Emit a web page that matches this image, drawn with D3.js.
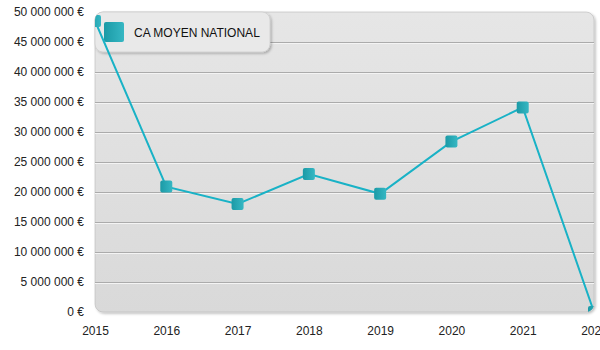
<!DOCTYPE html>
<html>
<head>
<meta charset="utf-8">
<script src="https://cdn.jsdelivr.net/npm/d3@7"></script>
<style>
  html, body { margin: 0; padding: 0; background: #ffffff; }
  svg { display: block; font-family: "Liberation Sans", Arial, sans-serif; }
</style>
</head>
<body>
<svg id="chart" width="600" height="350"></svg>
<script>
// Average national turnover per year
const years = [2015, 2016, 2017, 2018, 2019, 2020, 2021, 2022];
const caMoyen = [48500000, 20900000, 18000000, 23000000, 19700000, 28400000, 34100000, 0];
const yTicks = [0, 5000000, 10000000, 15000000, 20000000, 25000000, 30000000, 35000000, 40000000, 45000000, 50000000];
const seriesName = "CA MOYEN NATIONAL";

const svg = d3.select("#chart");
const plot = { left: 95, right: 594, top: 12, bottom: 312 };

const x = d3.scaleLinear().domain([2015, 2022]).range([plot.left, plot.right]);
const y = d3.scaleLinear().domain([0, 50000000]).range([plot.bottom, plot.top]);

const fmt = v => d3.format(",")(v).replace(/,/g, " ") + " €";

const defs = svg.append("defs");

const bg = defs.append("linearGradient").attr("id", "bgGrad")
  .attr("x1", 0).attr("y1", 0).attr("x2", 0).attr("y2", 1);
bg.append("stop").attr("offset", "0%").attr("stop-color", "#e6e6e6");
bg.append("stop").attr("offset", "100%").attr("stop-color", "#d9d9d9");

const mk = defs.append("linearGradient").attr("id", "markGrad")
  .attr("x1", 0).attr("y1", 0).attr("x2", 1).attr("y2", 0);
mk.append("stop").attr("offset", "0%").attr("stop-color", "#1b9aa6");
mk.append("stop").attr("offset", "100%").attr("stop-color", "#36b7c3");

const sh = defs.append("filter").attr("id", "shadow")
  .attr("x", "-10%").attr("y", "-10%").attr("width", "120%").attr("height", "130%");
sh.append("feDropShadow").attr("dx", 1.5).attr("dy", 1.5).attr("stdDeviation", 1.2)
  .attr("flood-color", "#000").attr("flood-opacity", 0.25);

defs.append("clipPath").attr("id", "plotClip")
  .append("rect")
  .attr("x", plot.left).attr("y", plot.top)
  .attr("width", plot.right - plot.left).attr("height", plot.bottom - plot.top)
  .attr("rx", 8).attr("ry", 8);

// Plot background panel
svg.append("rect")
  .attr("x", plot.left).attr("y", plot.top)
  .attr("width", plot.right - plot.left).attr("height", plot.bottom - plot.top)
  .attr("rx", 8).attr("ry", 8)
  .attr("fill", "url(#bgGrad)")
  .attr("stroke", "#b8b8b8").attr("stroke-width", 0.6)
  .attr("filter", "url(#shadow)");

// Horizontal grid lines
const grid = svg.append("g").attr("clip-path", "url(#plotClip)");
yTicks.filter(t => t > 0 && t < 50000000).forEach(t => {
  const yy = Math.round(y(t)) + 0.5;
  grid.append("line").attr("x1", plot.left).attr("x2", plot.right)
    .attr("y1", yy).attr("y2", yy).attr("stroke", "#ababab").attr("stroke-width", 1);
  grid.append("line").attr("x1", plot.left).attr("x2", plot.right)
    .attr("y1", yy + 1).attr("y2", yy + 1).attr("stroke", "#f4f4f4").attr("stroke-width", 1);
});

// Y axis labels
const yAxis = d3.axisLeft(y).tickValues(yTicks).tickFormat(fmt).tickSize(0).tickPadding(0);
const gy = svg.append("g").attr("transform", "translate(84,0)").call(yAxis);
gy.select(".domain").remove();
gy.selectAll("text").attr("font-size", 12).attr("fill", "#222")
  .attr("font-family", "'Liberation Sans', Arial, sans-serif");

// X axis labels (the last year runs past the right edge of the canvas)
const xAxis = d3.axisBottom(x).tickValues(years).tickFormat(d3.format("d")).tickSize(0).tickPadding(0);
const gx = svg.append("g").attr("transform", "translate(0,326)").call(xAxis);
gx.select(".domain").remove();
gx.selectAll("text").attr("font-size", 12).attr("fill", "#222")
  .attr("font-family", "'Liberation Sans', Arial, sans-serif");

// Legend
const lg = svg.append("g");
lg.append("rect")
  .attr("x", 95).attr("y", 12).attr("width", 175).attr("height", 40)
  .attr("rx", 8).attr("ry", 8)
  .attr("fill", "#e9e9e9").attr("stroke", "#c8c8c8").attr("stroke-width", 0.6)
  .attr("filter", "url(#shadow)");
lg.append("rect")
  .attr("x", 104).attr("y", 22).attr("width", 20).attr("height", 20)
  .attr("rx", 2).attr("ry", 2).attr("fill", "url(#markGrad)");
lg.append("text")
  .attr("x", 134).attr("y", 36.5)
  .attr("font-size", 12).attr("fill", "#111")
  .text(seriesName);

// Series line and markers, drawn above the legend
const data = years.map((yr, i) => ({ yr, v: caMoyen[i] }));
const series = svg.append("g").attr("clip-path", "url(#plotClip)");
series.append("path").datum(data)
  .attr("fill", "none").attr("stroke", "#19b2c6").attr("stroke-width", 2)
  .attr("d", d3.line().x(d => x(d.yr)).y(d => y(d.v)));
series.selectAll("rect.mark").data(data).join("rect")
  .attr("class", "mark")
  .attr("x", d => x(d.yr) - 6).attr("y", d => y(d.v) - 6)
  .attr("width", 12).attr("height", 12).attr("rx", 2).attr("ry", 2)
  .attr("fill", "url(#markGrad)");
</script>
</body>
</html>
